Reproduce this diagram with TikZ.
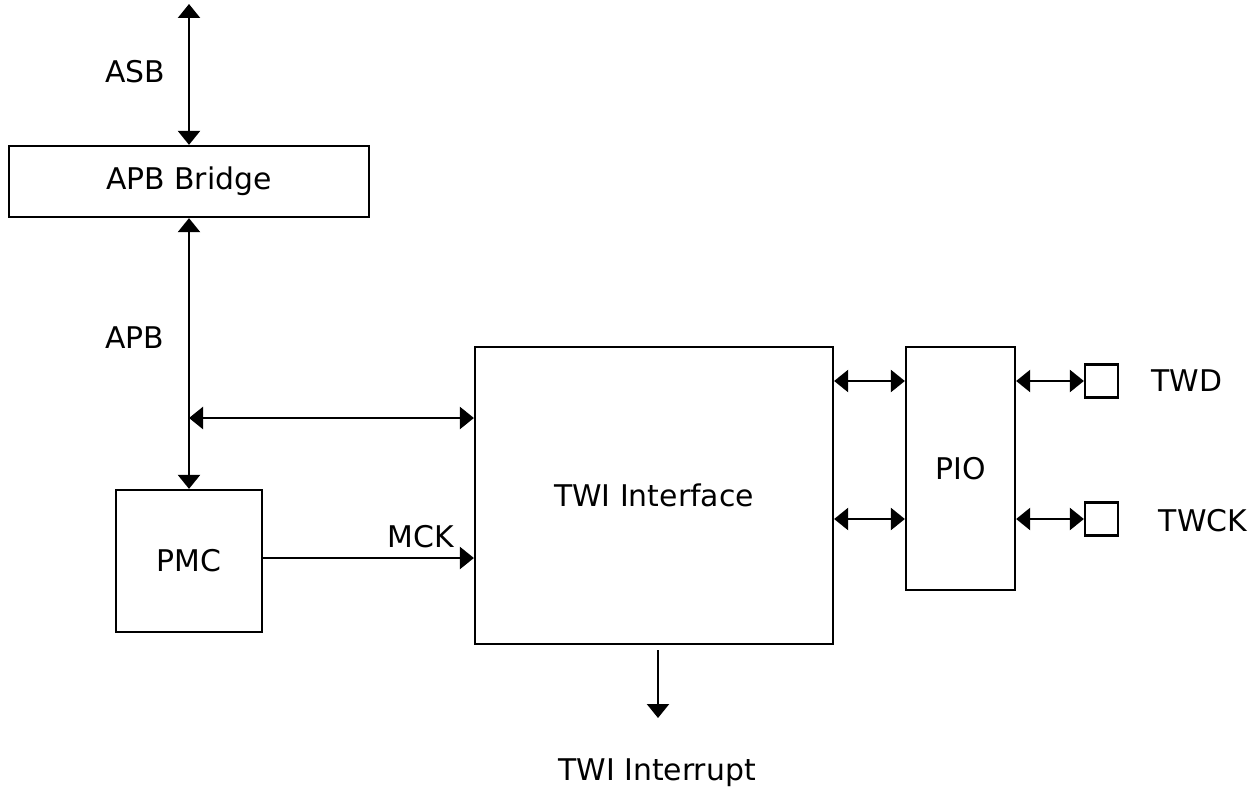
\documentclass[tikz,border=0pt]{standalone}
\usepackage{fontspec}
\setmainfont{DejaVu Sans}
\usetikzlibrary{positioning, arrows.meta, calc}

\tikzset{
    block/.style={draw, line width=1.3pt, inner sep=0pt, font=\fontsize{17}{20}\selectfont},
    pad/.style={draw, line width=1.3pt, minimum width=0.66cm, minimum height=0.66cm, inner sep=0pt},
    lbl/.style={font=\fontsize{17}{20}\selectfont, inner sep=0pt},
    sig/.style={line width=1.3pt, -{Triangle[length=0.28cm, width=0.44cm]}},
    bisig/.style={line width=1.3pt, {Triangle[length=0.28cm, width=0.44cm]}-{Triangle[length=0.28cm, width=0.44cm]}}
}

\begin{document}
\begin{tikzpicture}[x=0.02cm, y=-0.02cm]
    \useasboundingbox (0, 0) rectangle (1256, 791);

    % blocks
    \node[block, minimum width=7.2cm, minimum height=1.42cm] (bridge) at (189, 181.5) {APB Bridge};
    \node[block, minimum width=2.92cm, minimum height=2.84cm] (pmc) at (189, 561) {PMC};
    \node[block, minimum width=7.16cm, minimum height=5.94cm] (twi) at (654, 495.5) {TWI Interface};
    \node[block, minimum width=2.18cm, minimum height=4.86cm] (pio) at (960.5, 468.5) {PIO};
    \node[pad] (twdpad) at (1101.5, 381) {};
    \node[pad] (twckpad) at (1101.5, 519) {};

    % labels
    \node[lbl] (asblbl) at (135, 72) {ASB};
    \node[lbl] (apblbl) at (135, 338) {APB};
    \node[lbl] (mcklbl) at (421, 537) {MCK};
    \node[lbl] (twdlbl) at (1187, 381) {TWD};
    \node[lbl] (twcklbl) at (1203, 521) {TWCK};
    \node[lbl] (irqlbl) at (657, 773) {TWI Interrupt};

    \coordinate (asbtop) at (189, 4);
    \coordinate (apbtap) at (189, 418);
    \coordinate (irqend) at (658, 718);

    % connectors
    \draw[bisig] (asbtop) -- (bridge.north);
    \draw[bisig] (bridge.south) -- (pmc.north);
    \draw[bisig] (apbtap) -- (apbtap -| twi.west);
    \draw[sig] (pmc.east |- 0, 558) -- (twi.west |- 0, 558);
    \draw[bisig] (twi.east |- twdpad) -- (pio.west |- twdpad);
    \draw[bisig] (twi.east |- twckpad) -- (pio.west |- twckpad);
    \draw[bisig] (pio.east |- twdpad) -- (twdpad.west);
    \draw[bisig] (pio.east |- twckpad) -- (twckpad.west);
    \draw[sig] (irqend |- 0, 650) -- (irqend);
\end{tikzpicture}
\end{document}
